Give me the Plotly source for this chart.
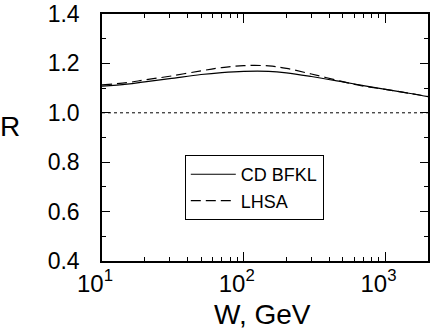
import plotly.graph_objects as go

W = [10, 15, 20, 30, 50, 70, 100, 150, 200, 300, 500, 700, 1000, 1500, 2000]
R_cdbfkl = [1.108, 1.116, 1.125, 1.138, 1.155, 1.163, 1.168, 1.168, 1.162, 1.147, 1.125, 1.110, 1.095, 1.078, 1.065]
R_lhsa = [1.113, 1.122, 1.133, 1.148, 1.170, 1.183, 1.191, 1.190, 1.180, 1.157, 1.126, 1.108, 1.095, 1.078, 1.066]
x_tickvals = [10, 100, 1000]
x_ticktext = ["10<sup>1</sup>", "10<sup>2</sup>", "10<sup>3</sup>"]
y_tickvals = [0.4, 0.6, 0.8, 1.0, 1.2, 1.4]
y_ticktext = ["0.4", "0.6", "0.8", "1.0", "1.2", "1.4"]

FONT = "Liberation Sans, Arial, sans-serif"

fig = go.Figure()
fig.add_trace(go.Scatter(x=W, y=R_cdbfkl, mode="lines", name="CD BFKL",
                         line=dict(color="black", width=1.2, shape="spline")))
fig.add_trace(go.Scatter(x=W, y=R_lhsa, mode="lines", name="LHSA",
                         line=dict(color="black", width=1.2, dash="10px,5px", shape="spline")))

fig.add_shape(type="line", xref="paper", yref="y", x0=0, x1=1, y0=1.0, y1=1.0,
              line=dict(color="black", width=1, dash="dot"))

fig.update_layout(
    width=430, height=332,
    margin=dict(l=102, r=0, t=14, b=71),
    paper_bgcolor="white", plot_bgcolor="white",
    font=dict(family=FONT, color="black"),
    showlegend=True,
    legend=dict(x=0.254, y=0.429, xanchor="left", yanchor="top",
                bordercolor="black", borderwidth=1, bgcolor="white",
                font=dict(size=18, family=FONT), tracegroupgap=0,
                itemwidth=45),
)

fig.update_xaxes(type="log", range=[1, 3.30],
                 tickvals=x_tickvals, ticktext=x_ticktext,
                 ticks="inside", ticklen=9, tickwidth=1.2, tickcolor="black",
                 minor=dict(ticks="inside", ticklen=4, tickwidth=1, tickcolor="black",
                            tickvals=[20, 30, 40, 50, 60, 70, 80, 90,
                                      200, 300, 400, 500, 600, 700, 800, 900, 2000]),
                 showline=True, linecolor="black", linewidth=1.5, mirror="allticks",
                 showgrid=False, zeroline=False,
                 tickfont=dict(size=24, family=FONT), ticklabelshift=-7,
                 ticklabelstandoff=0)
fig.update_yaxes(range=[0.4, 1.4], tickvals=y_tickvals, ticktext=y_ticktext,
                 ticks="inside", ticklen=8, tickwidth=1.2, tickcolor="black",
                 minor=dict(ticks="inside", ticklen=4, tickwidth=1, tickcolor="black",
                            dtick=0.1),
                 showline=True, linecolor="black", linewidth=1.5, mirror="allticks",
                 showgrid=False, zeroline=False,
                 tickfont=dict(size=23, family=FONT), ticklabelstandoff=16)

fig.add_annotation(text="R", xref="paper", yref="paper", x=-0.282, y=0.545,
                   xanchor="center", yanchor="middle", showarrow=False,
                   font=dict(size=28, family=FONT))
fig.add_annotation(text="W, GeV", xref="paper", yref="paper", x=0.493, y=-0.145,
                   xanchor="center", yanchor="top", showarrow=False,
                   font=dict(size=28, family=FONT))

fig.write_html("out.html")
